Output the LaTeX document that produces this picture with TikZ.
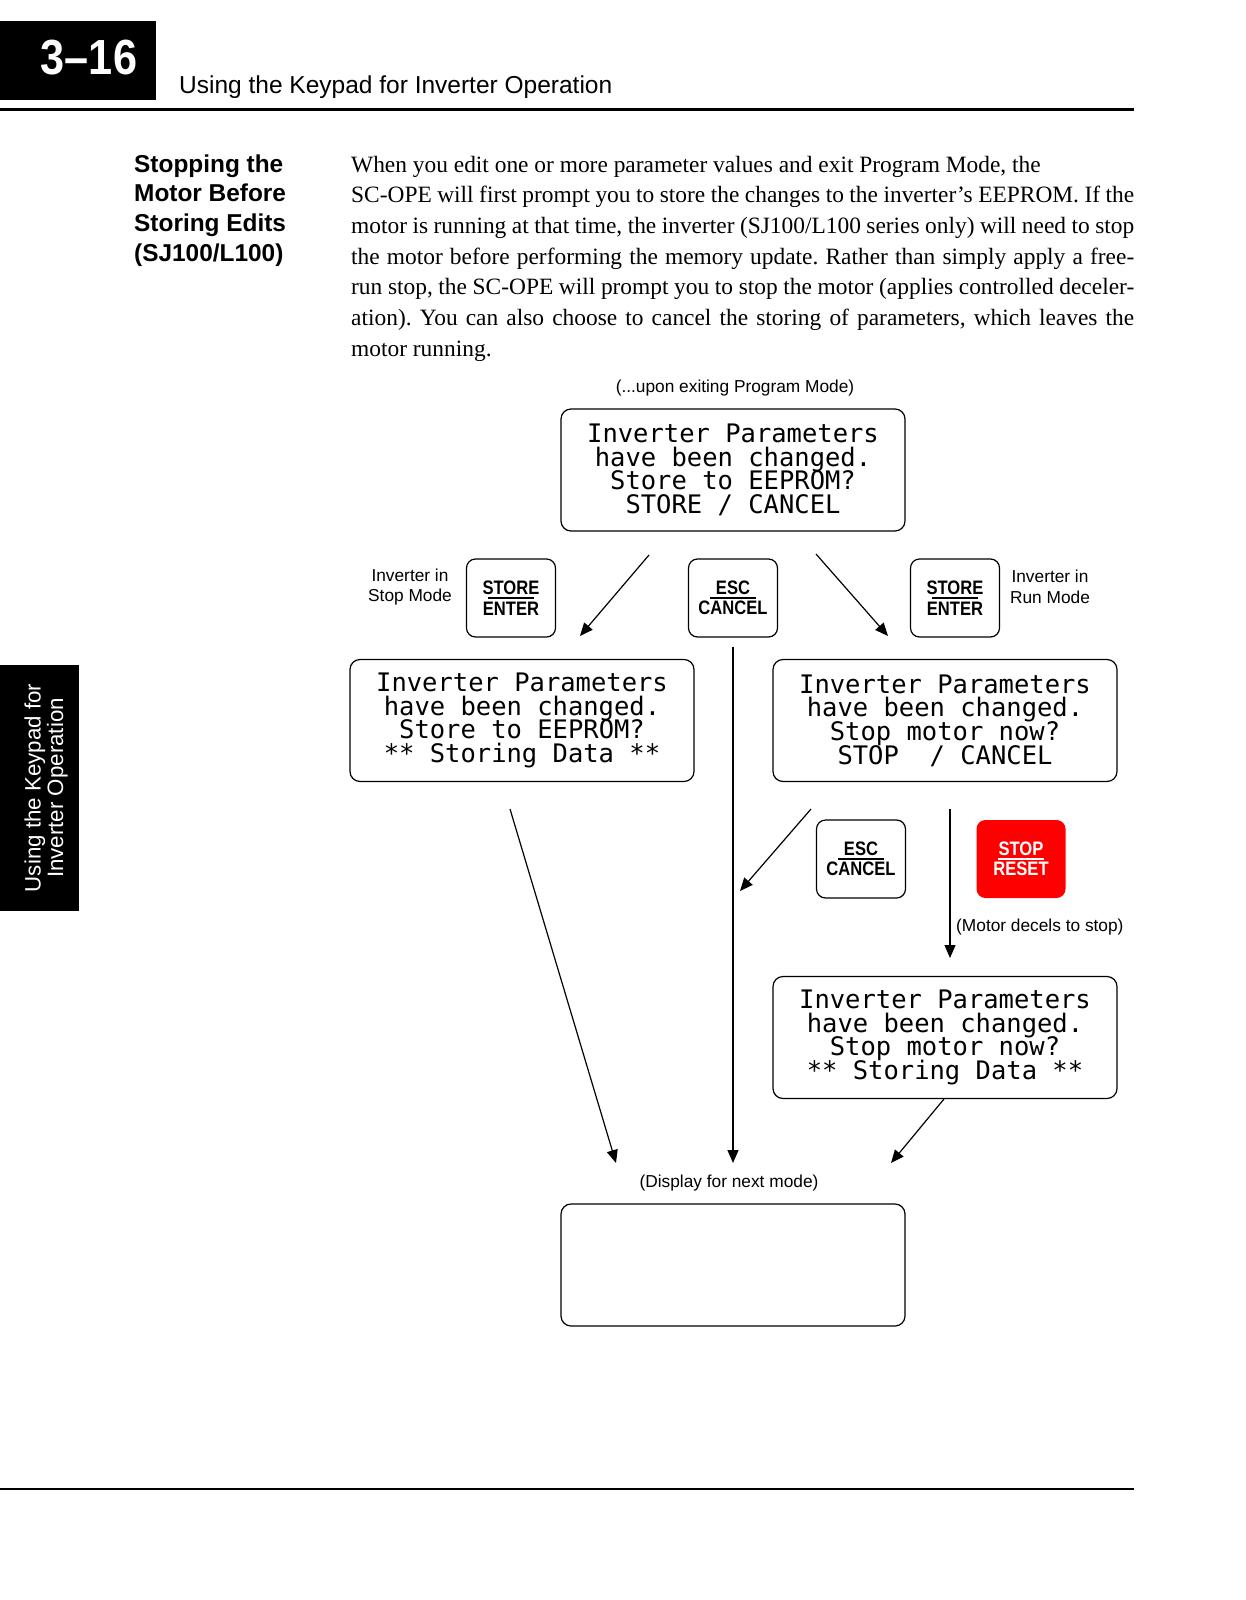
\documentclass[tikz,border=0pt]{standalone}
\usepackage{fontspec}
\usepackage{graphicx}
\setmainfont{Liberation Serif}
\setsansfont{Liberation Sans}
\newfontfamily\lcdfam{DejaVu Sans Mono}
\usetikzlibrary{arrows.meta}
\frenchspacing
\newcommand\lcdfont{\lcdfam\fontsize{25.5pt}{23.6pt}\selectfont\lineskiplimit=-100pt\lineskip=0pt}
\newcommand\lblfont{\sffamily\fontsize{17.3pt}{20.4pt}\selectfont}
\newcommand\keyfont{\sffamily\bfseries\fontsize{19.5pt}{20.5pt}\selectfont\lineskiplimit=-100pt\lineskip=0pt}
\newcommand\kw[1]{\scalebox{0.85}[1]{#1}}
\tikzset{
  lcdbox/.style={draw, rounded corners=10pt, line width=1.2pt, minimum width=344pt, minimum height=122pt, inner sep=0pt, align=center, font=\lcdfont},
  keybox/.style={draw, rounded corners=9pt, line width=1.2pt, minimum width=89pt, minimum height=78pt, inner sep=0pt, align=center, font=\keyfont,
    path picture={\draw[line width=1.1pt] ([xshift=-23pt]path picture bounding box.center) -- ([xshift=23pt]path picture bounding box.center);}},
  stopkey/.style={keybox, draw=none, fill=red, text=white,
    path picture={\draw[white, line width=1.1pt] ([xshift=-23pt]path picture bounding box.center) -- ([xshift=23pt]path picture bounding box.center);}},
  lbl/.style={font=\lblfont, align=center, inner sep=0pt},
  arr/.style={line width=1.2pt, -{Triangle[length=13pt,width=11pt]}},
  rulebar/.style={line width=#1},
}
\begin{document}
\begin{tikzpicture}[x=1pt,y=-1pt]
\useasboundingbox[fill=white] (0,0) rectangle (1245,1600);

% header
\node[fill=black, anchor=north west, minimum width=156pt, minimum height=79pt, inner sep=0pt] (hdrbox) at (0,21) {};
\node[text=white, font=\sffamily\bfseries\fontsize{47pt}{50pt}\selectfont, inner sep=0pt] (pageno) at (89,58) {\scalebox{0.92}[1.05]{3–16}};
\node[anchor=base west, font=\sffamily\fontsize{24.5pt}{28pt}\selectfont, inner sep=0pt] (hdrtitle) at (179,94) {Using the Keypad for Inverter Operation};
\coordinate (r1a) at (0,110); \coordinate (r1b) at (1134,110);
\draw[rulebar=3pt] (r1a) -- (r1b);
\coordinate (r2a) at (0,1489); \coordinate (r2b) at (1134,1489);
\draw[rulebar=2.5pt] (r2a) -- (r2b);

% side tab
\node[fill=black, anchor=north west, minimum width=79pt, minimum height=246pt, inner sep=0pt] (tab) at (0,665) {};
\node[rotate=90, text=white, align=center, font=\sffamily\fontsize{22.3pt}{22.5pt}\selectfont, inner sep=0pt] (tabtext) at (46,788) {Using the Keypad for\\Inverter Operation};

% heading
\node[anchor=base west, inner sep=0pt, font=\sffamily\bfseries\fontsize{24.4pt}{29.7pt}\selectfont] (heading) at (134,172)
 {\vtop{\hbox{Stopping the}\hbox{Motor Before}\hbox{Storing Edits}\hbox{(SJ100/L100)}}};

% body
\node[anchor=base west, inner sep=0pt, font=\fontsize{23.4pt}{30.7pt}\selectfont] (body) at (351,172)
 {\vtop{%
 \hbox to 783pt{When you edit one or more parameter values and exit Program Mode, the\hfil}
 \hbox to 783pt{SC-OPE will first prompt you to store the changes to the inverter’s EEPROM. If the}
 \hbox to 783pt{motor is running at that time, the inverter (SJ100/L100 series only) will need to stop}
 \hbox to 783pt{the motor before performing the memory update. Rather than simply apply a free-}
 \hbox to 783pt{run stop, the SC-OPE will prompt you to stop the motor (applies controlled deceler-}
 \hbox to 783pt{ation). You can also choose to cancel the storing of parameters, which leaves the}
 \hbox to 783pt{motor running.\hfil}}};

% diagram labels
\node[lbl] (cap1) at (735,388) {(...upon exiting Program Mode)};
\node[lbl] (stoplbl) at (410,587) {Inverter in\\Stop Mode};
\node[lbl] (runlbl) at (1050,587) {Inverter in\\Run Mode};
\node[lbl, anchor=west] (decel) at (956,927) {(Motor decels to stop)};
\node[lbl] (cap2) at (729,1183) {(Display for next mode)};

% displays
\node[lcdbox] (d1) at (733,470) {Inverter Parameters\\have been changed.\\Store to EEPROM?\\STORE / CANCEL};
\node[lcdbox] (d2) at (522,720.5) {Inverter Parameters\\have been changed.\\Store to EEPROM?\\** Storing Data **};
\node[lcdbox] (d3) at (945,720.5) {Inverter Parameters\\have been changed.\\Stop motor now?\\STOP\ \ / CANCEL};
\node[lcdbox] (d4) at (945,1037.5) {Inverter Parameters\\have been changed.\\Stop motor now?\\** Storing Data **};
\node[lcdbox] (d5) at (733,1265) {};

% keys
\node[keybox] (k1) at (511,598) {\kw{STORE}\\\kw{ENTER}};
\node[keybox] (k2) at (733,598) {\kw{ESC}\\\kw{CANCEL}};
\node[keybox] (k3) at (955,598) {\kw{STORE}\\\kw{ENTER}};
\node[keybox] (k4) at (861,859) {\kw{ESC}\\\kw{CANCEL}};
\node[stopkey] (k5) at (1021,859) {\kw{STOP}\\\kw{RESET}};

% arrows
\coordinate (a1s) at (649,555); \coordinate (a1e) at (580,636);
\coordinate (a2s) at (816,554); \coordinate (a2e) at (888,636);
\coordinate (a3s) at (733,647); \coordinate (a3e) at (733,1163);
\coordinate (a4s) at (510,809); \coordinate (a4e) at (616,1163);
\coordinate (a5s) at (811,809); \coordinate (a5e) at (740,891);
\coordinate (a6s) at (950,809); \coordinate (a6e) at (950,958);
\coordinate (a7s) at (944,1099); \coordinate (a7e) at (891,1163);
\draw[arr] (a1s) -- (a1e);
\draw[arr] (a2s) -- (a2e);
\draw[arr] (a3s) -- (a3e);
\draw[arr] (a4s) -- (a4e);
\draw[arr] (a5s) -- (a5e);
\draw[arr] (a6s) -- (a6e);
\draw[arr] (a7s) -- (a7e);
\end{tikzpicture}
\end{document}
